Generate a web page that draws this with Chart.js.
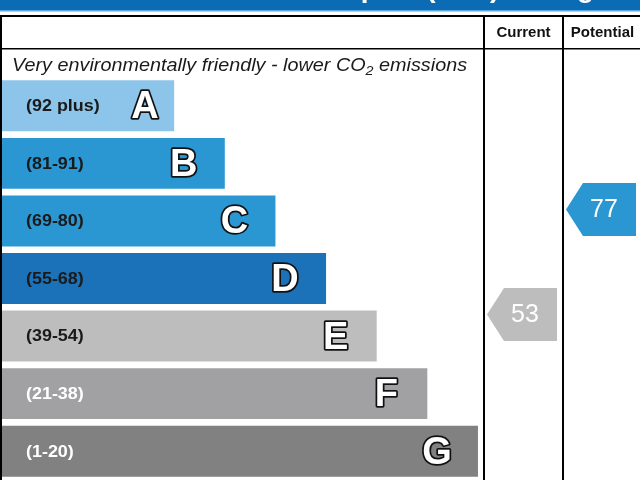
<!DOCTYPE html>
<html>
<head>
<meta charset="utf-8">
<title>Environmental Impact (CO2) Rating</title>
<script src="https://cdn.jsdelivr.net/npm/chart.js@4.4.0/dist/chart.umd.min.js"></script>
<style>
  html, body { margin: 0; padding: 0; background: #fff; }
  canvas { display: block; }
</style>
</head>
<body>
<canvas id="canvas-Rating" width="640" height="480"></canvas>
<script>
// rating bands, best (top) to worst (bottom)
const bandLetters = ["A", "B", "C", "D", "E", "F", "G"];
const bandRanges = ["(92 plus)", "(81-91)", "(69-80)", "(55-68)", "(39-54)", "(21-38)", "(1-20)"];
const bandMins = [92, 81, 69, 55, 39, 21, 1];
const barLengths = [34, 44, 54, 64, 74, 84, 94];

// current / potential ratings
const ratingColumns = ["Current", "Potential"];
const ratingValues = [53, 77];

const bandColors = ["#8cc5e9", "#2a97d3", "#2a97d3", "#1b72b8", "#bdbdbd", "#a1a1a3", "#818181"];
const bandTextColors = ["#1a1a1a", "#1a1a1a", "#1a1a1a", "#1a1a1a", "#1a1a1a", "#ffffff", "#ffffff"];

const FONT = "'Liberation Sans', Arial, sans-serif";
const colLeft = [484, 563]; // left edges of the Current / Potential columns

function bandIndex(value) {
  for (let i = 0; i < bandMins.length; i++) {
    if (value >= bandMins[i]) return i;
  }
  return bandMins.length - 1;
}

// text stretched a little sideways, like the source image
function stretchText(ctx, str, x, y, sx) {
  ctx.save();
  ctx.translate(x, y);
  ctx.scale(sx, 1);
  ctx.fillText(str, 0, 0);
  ctx.restore();
}

const frameAndLabels = {
  id: "frameAndLabels",
  beforeDraw(chart) {
    const ctx = chart.ctx;
    const w = chart.width;
    const h = chart.height;
    ctx.save();
    ctx.fillStyle = "#ffffff";
    ctx.fillRect(0, 0, w, h);

    // title band (title text is mostly cut off above)
    ctx.fillStyle = "#0b6bb4";
    ctx.fillRect(0, 0, w, 10);
    ctx.fillStyle = "#ffffff";
    ctx.font = "bold 28px " + FONT;
    ctx.textAlign = "center";
    ctx.textBaseline = "alphabetic";
    ctx.fillText("Environmental Impact (CO\u2082) Rating", 360, -3);
    ctx.fillStyle = "#5ba8dc";
    ctx.fillRect(0, 10, w, 1.5);

    // table frame
    ctx.fillStyle = "#000000";
    ctx.fillRect(0, 15, w, 2);
    ctx.fillRect(0, 48, w, 1.5);
    ctx.fillRect(0, 15, 2, h - 15);
    ctx.fillRect(colLeft[0] - 1, 15, 2, h - 15);
    ctx.fillRect(colLeft[1] - 1, 15, 2, h - 15);

    // header
    ctx.fillStyle = "#111111";
    ctx.font = "bold 15px " + FONT;
    ctx.textAlign = "center";
    ctx.fillText(ratingColumns[0], (colLeft[0] + colLeft[1]) / 2, 37);
    ctx.fillText(ratingColumns[1], (colLeft[1] + 640) / 2 + 1, 37);

    // caption line with subscript
    ctx.textAlign = "left";
    ctx.fillStyle = "#1a1a1a";
    ctx.font = "italic 18px " + FONT;
    const sx = 1.1;
    let x = 12;
    const part1 = "Very environmentally friendly - lower CO";
    stretchText(ctx, part1, x, 71, sx);
    x += ctx.measureText(part1).width * sx;
    ctx.font = "italic 13px " + FONT;
    stretchText(ctx, "2", x, 75, sx);
    x += ctx.measureText("2").width * sx;
    ctx.font = "italic 18px " + FONT;
    stretchText(ctx, " emissions", x, 71, sx);
    ctx.restore();
  },
  afterDatasetsDraw(chart) {
    const ctx = chart.ctx;
    const bars = chart.getDatasetMeta(0).data;
    ctx.save();
    ctx.textBaseline = "middle";

    bars.forEach((bar, i) => {
      // range text
      ctx.fillStyle = bandTextColors[i];
      ctx.font = "bold 16px " + FONT;
      ctx.textAlign = "left";
      stretchText(ctx, bandRanges[i], 26, bar.y + 1, 1.12);

      // outlined letter
      const lx = Math.max(bar.x - 41, 145);
      ctx.font = "bold 38px " + FONT;
      ctx.textAlign = "center";
      ctx.lineJoin = "round";
      ctx.lineWidth = 3.5;
      ctx.strokeStyle = "#111111";
      ctx.strokeText(bandLetters[i], lx, bar.y + 2);
      ctx.fillStyle = "#ffffff";
      ctx.fillText(bandLetters[i], lx, bar.y + 2);
    });

    // rating arrows, placed on the hidden rating scale
    const yv = chart.scales.yv;
    ratingValues.forEach((v, i) => {
      const cy = yv.getPixelForValue(v);
      const tip = colLeft[i] + 3;
      const right = tip + 70;
      const half = 26.5;
      ctx.fillStyle = bandColors[bandIndex(v)];
      ctx.beginPath();
      ctx.moveTo(tip, cy);
      ctx.lineTo(tip + 17, cy - half);
      ctx.lineTo(right, cy - half);
      ctx.lineTo(right, cy + half);
      ctx.lineTo(tip + 17, cy + half);
      ctx.closePath();
      ctx.fill();

      ctx.fillStyle = "#ffffff";
      ctx.font = "25px " + FONT;
      ctx.textAlign = "center";
      ctx.fillText(String(v), tip + 38, cy + 1);
    });
    ctx.restore();
  },
};

const context = document.getElementById("canvas-Rating").getContext("2d");
const ratingChart = new Chart(context, {
  type: "bar",
  data: {
    labels: bandLetters,
    datasets: [
      {
        label: "Band",
        indexAxis: "y",
        data: barLengths,
        backgroundColor: bandColors,
        borderWidth: 0,
        barPercentage: 0.885,
        categoryPercentage: 1,
        xAxisID: "x",
        yAxisID: "y",
      },
    ],
  },
  options: {
    indexAxis: "y",
    responsive: false,
    animation: false,
    layout: { padding: { left: 2, top: 77, right: 0, bottom: 0 } },
    plugins: {
      legend: { display: false },
      tooltip: { enabled: false },
      title: { display: false },
    },
    scales: {
      x: { type: "linear", min: 0, max: 126, display: false },
      y: { type: "category", display: false },
      // hidden scale for the rating arrows (no category offset here)
      yv: {
        type: "linear",
        min: 15.17,
        max: 107.28,
        offset: false,
        bounds: "data",
        display: false,
        position: "right",
      },
    },
  },
  plugins: [frameAndLabels],
});
</script>
</body>
</html>
